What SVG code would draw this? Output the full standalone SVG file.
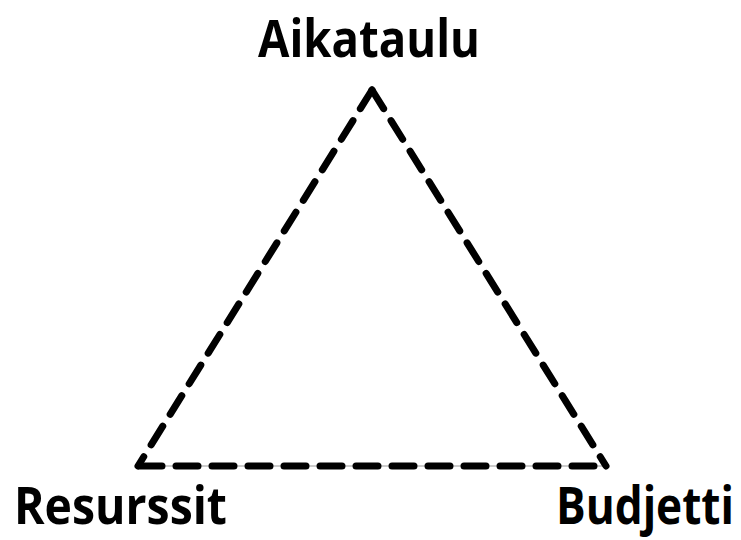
<svg xmlns="http://www.w3.org/2000/svg" width="741" height="540" viewBox="0 0 741 540">
<style>
.lbl{font-family:"Open Sans","Liberation Sans",sans-serif;font-weight:bold;font-size:52px;fill:#000}
.edge{stroke:#000;stroke-width:7;fill:none;stroke-dasharray:22 14;stroke-linecap:round}
.thin{stroke:#999;stroke-width:1;fill:none}
</style>
<rect width="741" height="540" fill="#fff"/>
<g id="connectors">
<line class="thin" x1="138" y1="466" x2="606" y2="466"/>
<path class="edge" d="M372 90 L138 466"/>
<path class="edge" d="M372 90 L606 466"/>
<path class="edge" d="M140 466 L606 466"/>
</g>
<g id="aikataulu"><text class="lbl" x="258" y="57" textLength="222" lengthAdjust="spacingAndGlyphs">Aikataulu</text></g>
<g id="resurssit"><text class="lbl" x="14" y="524" textLength="213" lengthAdjust="spacingAndGlyphs">Resurssit</text></g>
<g id="budjetti"><text class="lbl" x="734" y="524" text-anchor="end" textLength="178" lengthAdjust="spacingAndGlyphs">Budjetti</text></g>
</svg>
